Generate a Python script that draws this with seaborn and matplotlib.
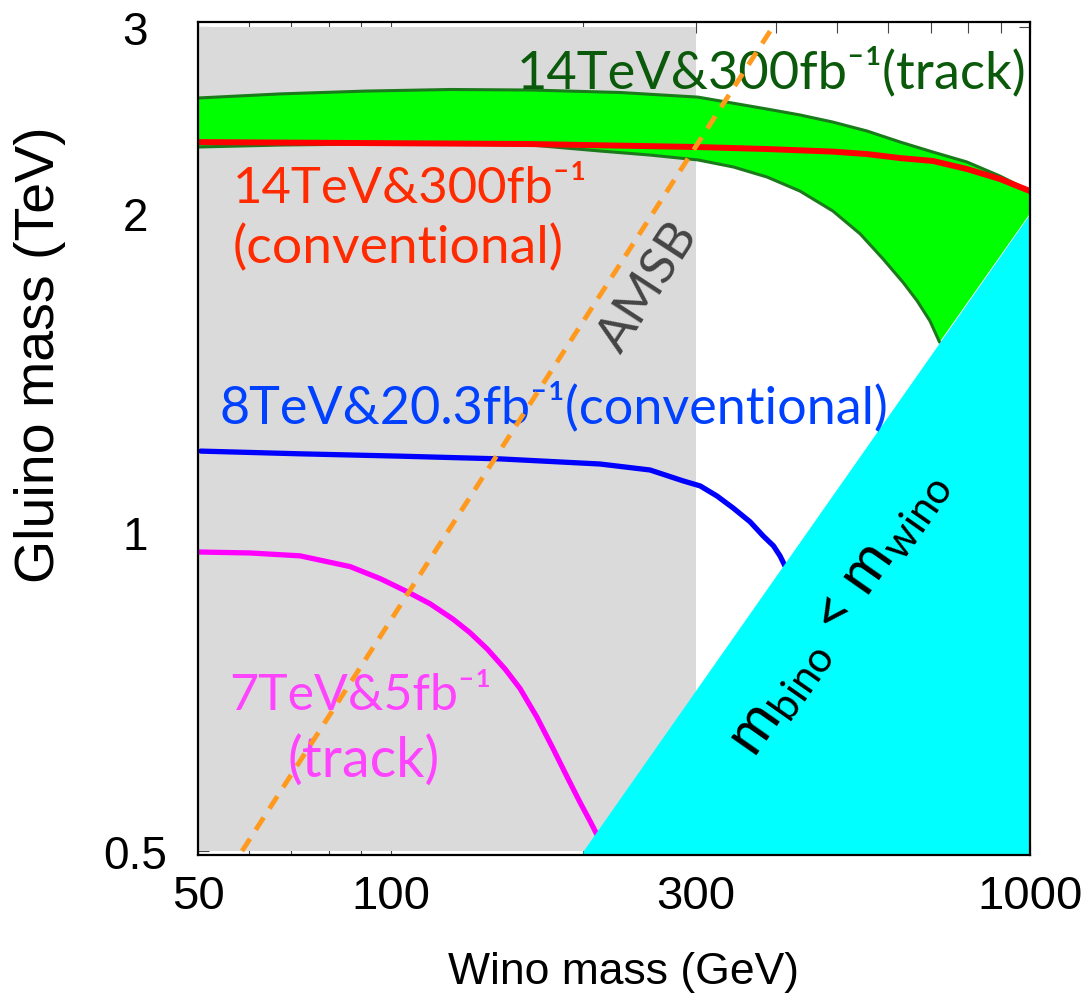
import matplotlib
matplotlib.use("Agg")
import matplotlib.pyplot as plt
import seaborn as sns
from matplotlib.ticker import FixedLocator, FixedFormatter, NullFormatter

# ---- exclusion contours: wino mass (GeV) vs gluino mass (TeV) ----
wino_7tev = [50, 60.3, 72.2, 86.5, 96.4, 106.5, 115.3, 125.2, 133.1, 141.6, 151.0,
             159.4, 169.4, 179.5, 189, 197.8, 205, 210, 215]
gluino_7tev = [0.958, 0.956, 0.950, 0.928, 0.904, 0.878, 0.856, 0.828, 0.804, 0.776, 0.743,
               0.712, 0.669, 0.625, 0.587, 0.556, 0.534, 0.519, 0.505]

wino_8tev = [50.5, 72.2, 103.4, 148.3, 212.6, 254.6, 287, 305, 324, 343.5, 365,
             382.6, 397, 406.5, 414, 421]
gluino_8tev = [1.193, 1.186, 1.180, 1.173, 1.160, 1.145, 1.118, 1.106, 1.082, 1.054, 1.023,
               0.992, 0.971, 0.950, 0.929, 0.904]

wino_14tev_conv = [50, 91, 166, 302, 388, 492, 556, 627, 705, 797, 897, 1000]
gluino_14tev_conv = [2.336, 2.331, 2.326, 2.311, 2.301, 2.288, 2.276, 2.256, 2.242, 2.203,
                     2.156, 2.100]

wino_14tev_track_hi = [50, 67.2, 91.3, 124, 166, 228.5, 302.5, 388, 436.7, 491.6, 556,
                       627, 705, 797, 897, 1000]
gluino_14tev_track_hi = [2.571, 2.594, 2.610, 2.619, 2.616, 2.602, 2.576, 2.510, 2.478,
                         2.440, 2.393, 2.336, 2.286, 2.237, 2.170, 2.100]

wino_14tev_track_lo = [50, 67.2, 91.3, 124, 166, 212.6, 254.6, 302.5, 343.5, 388, 436.7,
                       491.6, 542.6, 589, 634, 666, 697.6, 722]
gluino_14tev_track_lo = [2.311, 2.321, 2.326, 2.326, 2.321, 2.291, 2.271, 2.247, 2.213,
                         2.165, 2.100, 2.011, 1.913, 1.812, 1.720, 1.654, 1.583, 1.512]

# AMSB relation
wino_amsb = [58.6, 396]
gluino_amsb = [0.5, 3.0]

# m_bino < m_wino boundary
wino_bino_edge = [200, 1000]
gluino_bino_edge = [0.5, 2.0]

# shaded band (wino < 300 GeV)
wino_gray = [50, 300]
gluino_gray = [0.5, 3.0]

x_ticks = [50, 100, 300, 1000]
x_tick_labels = ["50", "100", "300", "1000"]
x_minor = [60, 70, 80, 90, 200, 400, 500, 600, 700, 800, 900]
y_ticks = [0.5, 1, 2, 3]
y_tick_labels = ["0.5", "1", "2", "3"]
y_minor = [0.6, 0.7, 0.8, 0.9]

# ---- style ----
sns.set_theme(style="ticks")
plt.rcParams["font.family"] = ["Liberation Sans", "DejaVu Sans"]
plt.rcParams["text.color"] = "black"
plt.rcParams["axes.labelcolor"] = "black"
plt.rcParams["mathtext.fontset"] = "custom"
plt.rcParams["mathtext.rm"] = "Lato"
plt.rcParams["mathtext.it"] = "Lato:italic"
plt.rcParams["mathtext.bf"] = "Lato:bold"

ANNOT_FONT = ["Lato", "DejaVu Sans"]

fig = plt.figure(figsize=(10.89, 10.04), dpi=100)
ax = fig.add_axes([198 / 1089, 148 / 1004, 832 / 1089, 833 / 1004])
ax.set_xscale("log")
ax.set_yscale("log")
ax.set_xlim(50, 1000)
ax.set_ylim(0.4957, 3.033)

# gray band
ax.fill_between(wino_gray, [gluino_gray[0]] * 2, [gluino_gray[1]] * 2,
                color="#dadada", lw=0, zorder=1)

# 14 TeV track band, closed along the m_bino = m_wino edge
band_x = wino_14tev_track_hi + [wino_bino_edge[1]] + wino_14tev_track_lo[::-1]
band_y = gluino_14tev_track_hi + [gluino_bino_edge[1]] + gluino_14tev_track_lo[::-1]
ax.fill(band_x, band_y, color="#00ff00", lw=0, zorder=2)

edge_kw = dict(color="#1b7a1b", linewidth=2.2, sort=False, estimator=None, zorder=3)
sns.lineplot(x=wino_14tev_track_hi, y=gluino_14tev_track_hi, ax=ax, **edge_kw)
sns.lineplot(x=wino_14tev_track_lo, y=gluino_14tev_track_lo, ax=ax, **edge_kw)

sns.lineplot(x=wino_14tev_conv, y=gluino_14tev_conv, ax=ax, color="#ff0000",
             linewidth=4.3, sort=False, estimator=None, zorder=4)
sns.lineplot(x=wino_8tev, y=gluino_8tev, ax=ax, color="#0000ff",
             linewidth=3.8, sort=False, estimator=None, zorder=4)
sns.lineplot(x=wino_7tev, y=gluino_7tev, ax=ax, color="#ff00ff",
             linewidth=3.8, sort=False, estimator=None, zorder=4)

# m_bino < m_wino region
ax.fill_between(wino_bino_edge, [0.45, 0.45], gluino_bino_edge,
                color="#00ffff", lw=0, zorder=6)

# AMSB line
sns.lineplot(x=wino_amsb, y=gluino_amsb, ax=ax, color="#ff9a1f", linewidth=3.5,
             linestyle=(0, (3.0, 2.2)), sort=False, estimator=None, zorder=8)

# ---- annotations ----
def note(px, py, s, color, size, **kw):
    ax.text((px - 198) / 832, (856 - py) / 833, s, transform=ax.transAxes,
            color=color, fontsize=size, family=ANNOT_FONT, zorder=7, **kw)

note(517, 88, "14TeV&300fb⁻¹(track)", "#0b5a0b", 37.7, va="baseline")
note(233, 203, "14TeV&300fb⁻¹", "#ff2a00", 36.5, va="baseline")
note(233, 263, "(conventional)", "#ff2a00", 38.5, va="baseline")
note(220, 423, "8TeV&20.3fb⁻¹(conventional)", "#0040ff", 37.5, va="baseline")
note(361, 710, "7TeV&5fb⁻¹", "#ff44ff", 36, va="baseline", ha="center")
note(364, 777, "(track)", "#ff44ff", 40, va="baseline", ha="center")
note(648, 287, "AMSB", "#444444", 37, ha="center", va="center",
     rotation=57, rotation_mode="anchor")
note(838, 613, r"m$_{\mathrm{bino}}$ < m$_{\mathrm{wino}}$", "black", 43,
     ha="center", va="center", rotation=55, rotation_mode="anchor")

# ---- axes, ticks ----
ax.xaxis.set_major_locator(FixedLocator(x_ticks))
ax.xaxis.set_major_formatter(FixedFormatter(x_tick_labels))
ax.xaxis.set_minor_locator(FixedLocator(x_minor))
ax.xaxis.set_minor_formatter(NullFormatter())
ax.yaxis.set_major_locator(FixedLocator(y_ticks))
ax.yaxis.set_major_formatter(FixedFormatter(y_tick_labels))
ax.yaxis.set_minor_locator(FixedLocator(y_minor))
ax.yaxis.set_minor_formatter(NullFormatter())

ax.tick_params(which="both", direction="in", length=8, width=0.8, color="#444444",
               labelcolor="black", top=True, right=True)
ax.tick_params(axis="x", which="major", labelsize=34, pad=14)
ax.tick_params(axis="y", which="major", labelsize=33, pad=45)
for lab in ax.get_yticklabels():
    lab.set_horizontalalignment("center")

for sp in ax.spines.values():
    sp.set_linewidth(1.6)
    sp.set_color("black")
    sp.set_zorder(10)

ax.set_xlabel("Wino mass (GeV)", fontsize=32, color="black")
ax.xaxis.set_label_coords((623 - 198) / 832, (856 - 952) / 833)
ax.set_ylabel("Gluino mass (TeV)", fontsize=40, color="black")
ax.yaxis.set_label_coords((66 - 198) / 832, (856 - 355) / 833)

fig.savefig("out.png", dpi=100)
